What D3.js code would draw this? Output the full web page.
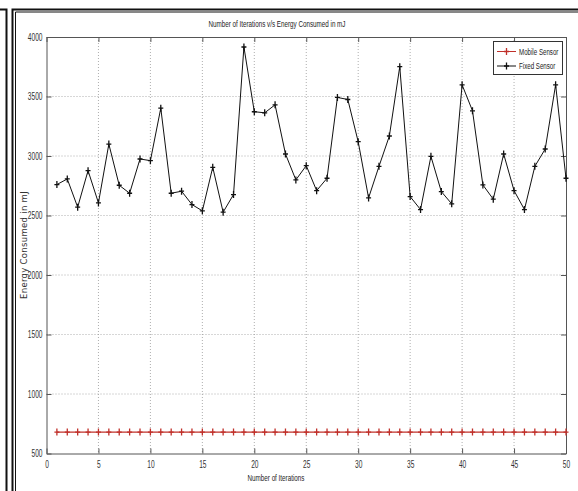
<!DOCTYPE html>
<html><head><meta charset="utf-8">
<script src="https://cdn.jsdelivr.net/npm/d3@7"></script>
<style>
html,body{margin:0;padding:0;background:#fff;}
svg{display:block;}
.narrow{font-family:"Liberation Sans",Arial,sans-serif;}
</style></head>
<body>
<script>
const iterations = [1,2,3,4,5,6,7,8,9,10,11,12,13,14,15,16,17,18,19,20,21,22,23,24,25,26,27,28,29,30,31,32,33,34,35,36,37,38,39,40,41,42,43,44,45,46,47,48,49,50];
const fixedSensor = [2760,2807,2570,2877,2606,3100,2754,2687,2975,2961,3402,2687,2704,2592,2539,2905,2528,2676,3916,3372,3363,3430,3017,2799,2919,2709,2813,3492,3475,3120,2648,2913,3168,3751,2659,2550,2997,2701,2598,3598,3380,2757,2637,3017,2709,2550,2913,3059,3598,2813];
const mobileSensor = [680,680,680,680,680,680,680,680,680,680,680,680,680,680,680,680,680,680,680,680,680,680,680,680,680,680,680,680,680,680,680,680,680,680,680,680,680,680,680,680,680,680,680,680,680,680,680,680,680,680];
const xTicks = [0,5,10,15,20,25,30,35,40,45,50];
const yTicks = [500,1000,1500,2000,2500,3000,3500,4000];
const seriesNames = ["Mobile Sensor","Fixed Sensor"];
const seriesColors = ["#c0302a","#111111"];

const W = 578, H = 491;
const svg = d3.select("body").append("svg").attr("width",W).attr("height",H);

// page frame
const frame = svg.append("g").attr("fill","none").attr("stroke","#111");
frame.append("path").attr("d","M0,9.5H6.5V491").attr("stroke-width",2);
frame.append("path").attr("d","M12.5,491V9.5H578").attr("stroke-width",2);
frame.append("path").attr("d","M15.5,491V12H578").attr("stroke-width",1);

const L = 46.5, R = 566, T = 37, B = 453.5;
const x = d3.scaleLinear().domain([0,50]).range([L,R]);
const y = d3.scaleLinear().domain([500,4000]).range([B,T]);

const g = svg.append("g");

// grid
g.append("g").selectAll("line").data(xTicks.slice(1,-1)).join("line")
  .attr("x1",d=>x(d)).attr("x2",d=>x(d)).attr("y1",T).attr("y2",B)
  .attr("stroke","#999").attr("stroke-width",0.8).attr("stroke-dasharray","1,2");
g.append("g").selectAll("line").data(yTicks.slice(1,-1)).join("line")
  .attr("y1",d=>y(d)).attr("y2",d=>y(d)).attr("x1",L).attr("x2",R)
  .attr("stroke","#999").attr("stroke-width",0.8).attr("stroke-dasharray","1,2");

// axes
const fmt = d3.format("d");
const axB = d3.axisBottom(x).tickValues(xTicks).tickFormat(fmt).tickSize(-5).tickPadding(7).tickSizeOuter(0);
const axL = d3.axisLeft(y).tickValues(yTicks).tickFormat(fmt).tickSize(-5).tickPadding(4).tickSizeOuter(0);
const axT = d3.axisTop(x).tickValues(xTicks).tickSize(-5).tickFormat("").tickSizeOuter(0);
const axR = d3.axisRight(y).tickValues(yTicks).tickSize(-5).tickFormat("").tickSizeOuter(0);
function style(sel){
  sel.selectAll("path").attr("stroke","#555");
  sel.selectAll("line").attr("stroke","#555");
  sel.selectAll("text").attr("class","narrow").attr("font-size","10px").attr("fill","#333");
}
g.append("g").attr("transform",`translate(0,${B})`).call(axB).call(style);
g.append("g").attr("transform",`translate(${L},0)`).call(axL).call(style);
g.append("g").attr("transform",`translate(0,${T})`).call(axT).call(style);
g.append("g").attr("transform",`translate(${R},0)`).call(axR).call(style);

// markers
function plusPath(px,py){ return `M${px-2.5},${py}H${px+2.5}M${px},${py-3.5}V${py+3.5}`; }

const series = [mobileSensor, fixedSensor];
series.forEach((vals,i)=>{
  const data = iterations.map((it,k)=>[it,vals[k]]);
  const line = d3.line().x(d=>x(d[0])).y(d=>y(d[1]));
  g.append("path").datum(data).attr("d",line).attr("fill","none")
    .attr("stroke",seriesColors[i]).attr("stroke-width",i===0?1.2:1);
  g.append("path").attr("d",data.map(d=>plusPath(x(d[0]),y(d[1]))).join(""))
    .attr("stroke",seriesColors[i]).attr("stroke-width",1.3).attr("fill","none");
});

// legend
const lg = svg.append("g");
lg.append("rect").attr("x",493.5).attr("y",41.5).attr("width",69).attr("height",33)
  .attr("fill","#fff").attr("stroke","#333").attr("stroke-width",1);
seriesNames.forEach((n,i)=>{
  const ly = 51.5 + i*14.5;
  lg.append("line").attr("x1",497).attr("x2",516).attr("y1",ly).attr("y2",ly).attr("stroke",seriesColors[i]);
  lg.append("path").attr("d",plusPath(506.5,ly)).attr("stroke",seriesColors[i]).attr("stroke-width",1.3);
  lg.append("g").attr("transform",`translate(519,${ly+3.3}) scale(0.65,1)`)
    .append("text").attr("class","narrow").attr("x",0).attr("y",0).attr("font-size","9.5px")
    .attr("fill","#222").text(n);
});

// title and labels
svg.append("text").attr("class","narrow squeeze").attr("x",277).attr("y",27).attr("text-anchor","middle")
  .attr("font-size","9.5px").attr("fill","#222").text("Number of Iterations v/s Energy Consumed in mJ");
svg.append("text").attr("class","narrow squeeze").attr("x",276).attr("y",481).attr("text-anchor","middle")
  .attr("font-size","9.5px").attr("fill","#222").text("Number of Iterations");
svg.append("text").attr("transform","translate(27,245) rotate(-90)").attr("text-anchor","middle")
  .attr("font-family","'DejaVu Sans',sans-serif").attr("font-size","8.5px").attr("fill","#333")
  .attr("letter-spacing","0.3px").text("Energy Consumed in mJ");

// condense axis/title texts (MATLAB-like narrow face)
svg.selectAll(".tick text, text.squeeze").each(function(){
  const w = this.getComputedTextLength();
  if (w > 0) d3.select(this).attr("textLength", w*0.66).attr("lengthAdjust","spacingAndGlyphs");
});
</script>
</body></html>
